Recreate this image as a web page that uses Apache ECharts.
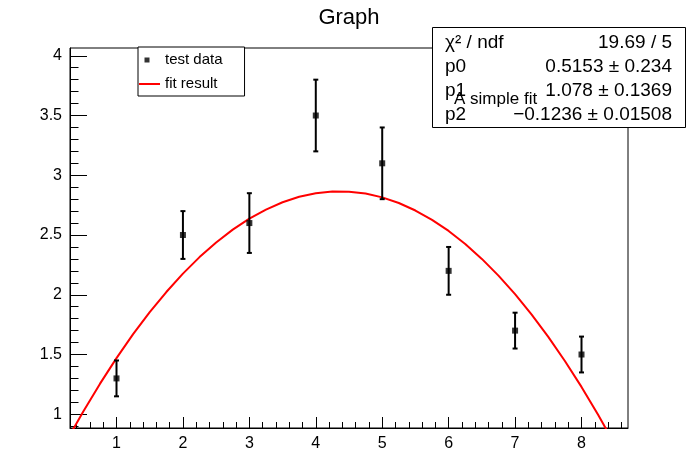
<!DOCTYPE html>
<html><head><meta charset="utf-8">
<script src="https://cdn.jsdelivr.net/npm/echarts@6/dist/echarts.min.js"></script>
<style>html,body{margin:0;padding:0;background:#fff}#c{width:698px;height:476px}</style>
</head><body><div id="c"></div>
<script>
// ---- data ----
const xValues = [1, 2, 3, 4, 5, 6, 7, 8];
const yValues = [1.3, 2.5, 2.6, 3.5, 3.1, 2.2, 1.7, 1.5];
const yErrors = [0.15, 0.2, 0.25, 0.3, 0.3, 0.2, 0.15, 0.15];
const fitX = [0.3, 0.5, 0.75, 1, 1.25, 1.5, 1.75, 2, 2.25, 2.5, 2.75, 3, 3.25, 3.5, 3.75, 4, 4.25, 4.5, 4.75, 5, 5.25, 5.5, 5.75, 6, 6.25, 6.5, 6.75, 7, 7.25, 7.5, 7.75, 8, 8.25, 8.5, 8.7];
const fitY = [0.828, 1.023, 1.254, 1.470, 1.670, 1.854, 2.023, 2.177, 2.315, 2.438, 2.545, 2.637, 2.713, 2.774, 2.820, 2.850, 2.864, 2.863, 2.847, 2.815, 2.768, 2.705, 2.627, 2.534, 2.425, 2.300, 2.160, 2.005, 1.834, 1.648, 1.446, 1.229, 0.996, 0.748, 0.539];
const xTickLabels = [1, 2, 3, 4, 5, 6, 7, 8];
const yTickLabels = [1, 1.5, 2, 2.5, 3, 3.5, 4];
const statsLabels = ['χ² / ndf', 'p0', 'p1', 'p2'];
const statsValues = ['19.69 / 5', '0.5153 ± 0.234', '1.078 ± 0.1369', '−0.1236 ± 0.01508'];
const fitName = 'A simple fit';
const titleText = 'Graph';
const legendNames = ['test data', 'fit result'];

// minor tick positions
const xMinor = [];
for (let k = 2; k <= 43; k++) { const v = +(k * 0.2).toFixed(2); if (Math.abs(v - Math.round(v)) > 1e-6) xMinor.push(v); }
const yMinor = [];
for (let k = 9; k <= 40; k++) { const v = +(k * 0.1).toFixed(2); if (Math.abs(v * 2 - Math.round(v * 2)) > 1e-6) yMinor.push(v); }

const FONT = 'Liberation Sans, Arial, sans-serif';
const chart = echarts.init(document.getElementById('c'), null, {renderer: 'canvas'});

const statsChildren = [{
  type: 'rect', shape: {x: 432.5, y: 27.5, width: 253, height: 100},
  style: {fill: '#fff', stroke: '#000', lineWidth: 1}
}];
statsLabels.forEach((t, i) => {
  statsChildren.push({type: 'text', x: 445, y: 43 + i * 24,
    style: {text: t, font: '19px ' + FONT, fill: '#000', textAlign: 'left', textVerticalAlign: 'middle'}});
  statsChildren.push({type: 'text', x: 672, y: 43 + i * 24,
    style: {text: statsValues[i], font: '19px ' + FONT, fill: '#000', textAlign: 'right', textVerticalAlign: 'middle'}});
});
statsChildren.push({type: 'text', x: 454, y: 99,
  style: {text: fitName, font: '17px ' + FONT, fill: '#000', textAlign: 'left', textVerticalAlign: 'middle'}});

const axisCommon = {
  type: 'value', splitLine: {show: false},
  axisLine: {onZero: false, lineStyle: {color: '#000', width: 1}}
};

// legend icons (bounding box 21x6 so the aspect is preserved)
const markerIcon = 'path://M0,0L0,0.001ZM21,6L21,5.999ZM5.5,0.5L10.5,0.5L10.5,5.5L5.5,5.5Z';
const lineIcon = 'path://M0,0L0,0.001ZM21,6L21,5.999ZM0,2L21,2L21,4L0,4Z';

chart.setOption({
  animation: false,
  backgroundColor: '#fff',
  title: {text: titleText, left: 'center', top: 2,
    textStyle: {fontSize: 22, fontWeight: 'normal', fontFamily: FONT, color: '#000'}},
  grid: {left: 70, right: 70, top: 48, bottom: 48, show: true, borderColor: '#000', borderWidth: 1, backgroundColor: 'transparent'},
  legend: {
    orient: 'vertical', left: 138, top: 47, padding: [5, 22, 4, 1], itemGap: 8,
    itemWidth: 21, itemHeight: 6, backgroundColor: '#fff', borderColor: '#000', borderWidth: 1,
    selectedMode: false, textStyle: {fontSize: 15, fontFamily: FONT, color: '#000', lineHeight: 16},
    data: [
      {name: legendNames[0], icon: markerIcon, itemStyle: {color: '#000', borderWidth: 0}},
      {name: legendNames[1], icon: lineIcon, itemStyle: {color: '#ff0000', borderWidth: 0}}
    ], z: 10
  },
  xAxis: [
    Object.assign({}, axisCommon, {min: 0.3, max: 8.7, position: 'bottom',
      axisTick: {inside: true, length: 11, customValues: xTickLabels, lineStyle: {color: '#000'}},
      axisLabel: {customValues: xTickLabels, color: '#000', fontSize: 16, fontFamily: FONT, margin: 8}}),
    Object.assign({}, axisCommon, {min: 0.3, max: 8.7, position: 'bottom', axisLine: {show: false, onZero: false},
      axisTick: {inside: true, length: 6, customValues: xMinor, lineStyle: {color: '#000'}},
      axisLabel: {show: false}})
  ],
  yAxis: [
    Object.assign({}, axisCommon, {min: 0.885, max: 4.065, position: 'left',
      axisTick: {inside: true, length: 17, customValues: yTickLabels, lineStyle: {color: '#000'}},
      axisLabel: {customValues: yTickLabels, color: '#000', fontSize: 16, fontFamily: FONT, margin: 8}}),
    Object.assign({}, axisCommon, {min: 0.885, max: 4.065, position: 'left', axisLine: {show: false, onZero: false},
      axisTick: {inside: true, length: 8.5, customValues: yMinor, lineStyle: {color: '#000'}},
      axisLabel: {show: false}})
  ],
  graphic: [{type: 'group', z: 100, children: statsChildren}],
  series: [
    {
      name: 'fit result', type: 'line', xAxisIndex: 0, yAxisIndex: 0,
      data: fitX.map((x, i) => [x, fitY[i]]), smooth: false, symbol: 'none', clip: true,
      lineStyle: {color: '#ff0000', width: 2}, itemStyle: {color: '#ff0000'}, z: 3
    },
    {
      name: 'error bars', type: 'custom', xAxisIndex: 0, yAxisIndex: 0,
      data: xValues.map((x, i) => [x, yValues[i] - yErrors[i], yValues[i] + yErrors[i]]),
      renderItem: function (params, api) {
        const lo = api.coord([api.value(0), api.value(1)]);
        const hi = api.coord([api.value(0), api.value(2)]);
        const c = 2.5, st = {stroke: '#000', lineWidth: 2};
        return {type: 'group', children: [
          {type: 'line', shape: {x1: lo[0], y1: lo[1], x2: hi[0], y2: hi[1]}, style: st},
          {type: 'line', shape: {x1: lo[0] - c, y1: lo[1], x2: lo[0] + c, y2: lo[1]}, style: st},
          {type: 'line', shape: {x1: hi[0] - c, y1: hi[1], x2: hi[0] + c, y2: hi[1]}, style: st}
        ]};
      }, z: 4
    },
    {
      name: 'test data', type: 'scatter', xAxisIndex: 0, yAxisIndex: 0,
      data: xValues.map((x, i) => [x, yValues[i]]), symbol: 'rect', symbolSize: 6,
      itemStyle: {color: '#000'}, z: 5
    }
  ]
});
</script></body></html>
